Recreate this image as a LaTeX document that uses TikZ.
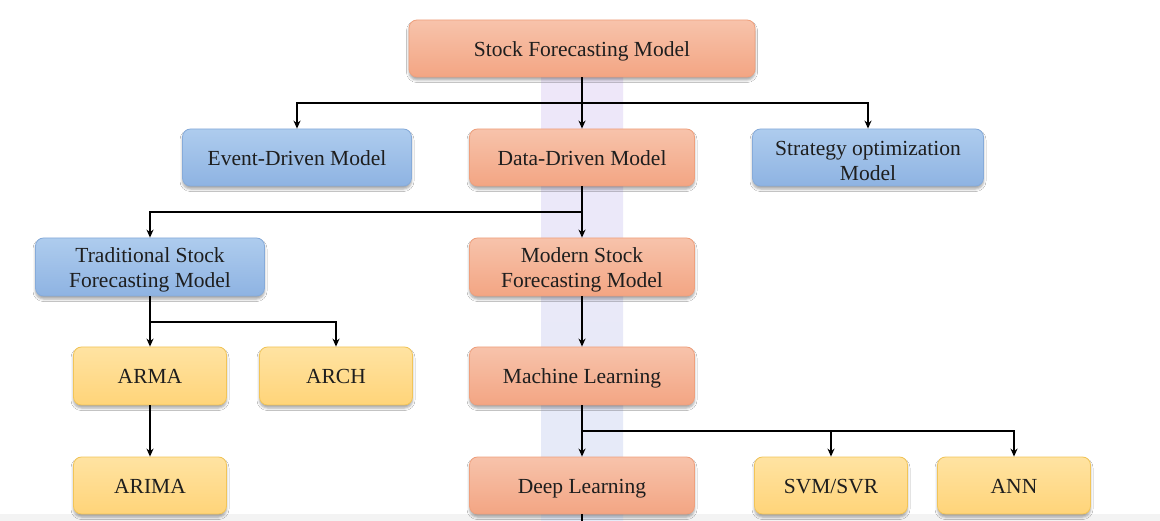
\documentclass[tikz,border=0pt]{standalone}
\usepackage{fontspec}
\setmainfont{Liberation Serif}
\usetikzlibrary{arrows.meta,shadows.blur}
\definecolor{orT}{HTML}{F7C3AB}
\definecolor{orB}{HTML}{F3A583}
\definecolor{orD}{HTML}{EFA07D}
\definecolor{blT}{HTML}{AECCEE}
\definecolor{blB}{HTML}{8EB3E2}
\definecolor{blD}{HTML}{86ABDA}
\definecolor{yeT}{HTML}{FFE3A2}
\definecolor{yeB}{HTML}{FFD479}
\definecolor{yeD}{HTML}{F2C558}
\definecolor{bandT}{HTML}{EEE7F9}
\definecolor{bandB}{HTML}{E4EBF8}
\definecolor{stripC}{HTML}{F3F3F3}
\definecolor{txtC}{HTML}{1E1E1E}
\tikzset{
  box/.style={rounded corners=8pt, line width=0.8pt, align=center,
    font=\fontsize{21.5}{25}\selectfont, text=txtC,
    blur shadow={shadow xshift=0pt, shadow yshift=-3pt, shadow blur radius=2.5pt, shadow opacity=35},
    minimum height=57pt, inner sep=0pt, text height=16pt, text depth=0pt},
  orbox/.style={box, draw=orD, top color=orT, bottom color=orB},
  blbox/.style={box, draw=blD, top color=blT, bottom color=blB},
  yebox/.style={box, draw=yeD, top color=yeT, bottom color=yeB, minimum width=153pt},
  txt/.style={align=center, font=\fontsize{21.5}{25}\selectfont, text=txtC, inner sep=0pt},
  arr/.style={line width=1.8pt, -{Stealth[length=8pt,width=7pt]}},
  ln/.style={line width=1.8pt}
}
\begin{document}
\begin{tikzpicture}[x=1pt,y=-1pt]
\useasboundingbox (0,0) rectangle (1160,521);
\fill[white] (0,0) rectangle (1160,521);
\fill[stripC] (0,514) rectangle (1160,521);
\shade[top color=bandT, bottom color=bandB] (541,78) rectangle (623,521);

\node[orbox, minimum width=346pt] (top) at (582,48.5) {Stock Forecasting Model};
\node[blbox, minimum width=229pt] (ev) at (297,157.5) {Event-Driven Model};
\node[orbox, minimum width=225pt] (dd) at (582,157.5) {Data-Driven Model};
\node[blbox, minimum width=231pt] (so) at (868,157.5) {};
\node[txt] (so-t) at ([yshift=-3pt]so.center) {Strategy optimization\\Model};
\node[blbox, minimum width=229pt, minimum height=58pt] (tsf) at (150,267) {};
\node[txt] (tsf-t) at ([yshift=-3pt]tsf.center) {Traditional Stock\\Forecasting Model};
\node[orbox, minimum width=225pt, minimum height=58pt] (msf) at (582,267) {};
\node[txt] (msf-t) at ([yshift=-3pt]msf.center) {Modern Stock\\Forecasting Model};
\node[yebox, minimum height=58pt] (arma) at (150,376) {ARMA};
\node[yebox, minimum height=58pt] (arch) at (336,376) {ARCH};
\node[orbox, minimum width=225pt, minimum height=58pt] (ml) at (582,376) {Machine Learning};
\node[yebox] (arima) at (150,485.5) {ARIMA};
\node[orbox, minimum width=225pt] (dl) at (582,485.5) {Deep Learning};
\node[yebox] (svm) at (831,485.5) {SVM/SVR};
\node[yebox] (ann) at (1014,485.5) {ANN};

\coordinate (j1) at (582,103);
\coordinate (j2) at (582,212);
\coordinate (j3) at (150,322);
\coordinate (j4) at (582,431);
\coordinate (bot) at (582,521);

\draw[arr] (top.south) -- (dd.north);
\draw[arr] (j1) -| (ev.north);
\draw[arr] (j1) -| (so.north);
\draw[arr] (dd.south) -- (msf.north);
\draw[arr] (j2) -| (tsf.north);
\draw[arr] (tsf.south) -- (arma.north);
\draw[arr] (j3) -| (arch.north);
\draw[arr] (arma.south) -- (arima.north);
\draw[arr] (msf.south) -- (ml.north);
\draw[arr] (ml.south) -- (dl.north);
\draw[arr] (j4) -| (svm.north);
\draw[arr] (j4) -| (ann.north);
\draw[ln] (dl.south) -- (bot);
\end{tikzpicture}
\end{document}
